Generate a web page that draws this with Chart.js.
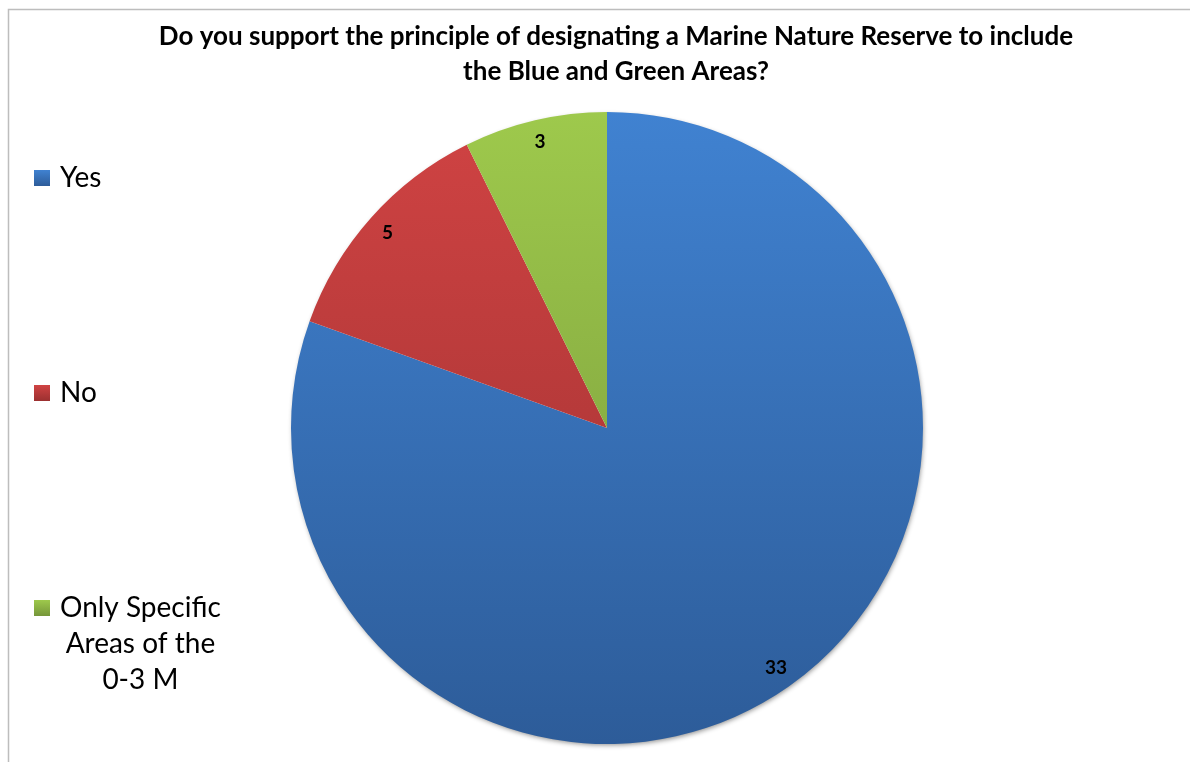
<!DOCTYPE html>
<html>
<head>
<meta charset="utf-8">
<script src="https://cdn.jsdelivr.net/npm/chart.js@4.4.0/dist/chart.umd.min.js"></script>
<style>
    body { margin: 0; background: #fff; }
    canvas { display: block; }
</style>
</head>
<body>
<canvas id="surveyPie" width="1190" height="762"></canvas>
<script>
// --- Data ---
const categories = ['Yes', 'No', ['Only Specific', 'Areas of the', '0-3 M']];
const responses = [33, 5, 3];
const titleLines = [
    'Do you support the principle of designating a Marine Nature Reserve to include',
    'the Blue and Green Areas?'
];
const topColors = ['#4082d1', '#d04343', '#9ec94c'];
const bottomColors = ['#2d5c99', '#9b3030', '#76963a'];

const FONT = 'Lato, "Open Sans", sans-serif';

// vertical gradient for each slice, like the Excel original
function sliceFill(context) {
    const i = context.dataIndex;
    const area = context.chart.chartArea;
    if (!area) return topColors[i];
    const g = context.chart.ctx.createLinearGradient(0, area.top, 0, area.bottom);
    g.addColorStop(0, topColors[i]);
    g.addColorStop(1, bottomColors[i]);
    return g;
}

// thin grey frame round the chart (only top and left are visible)
const framePlugin = {
    id: 'frame',
    beforeDraw(chart) {
        const ctx = chart.ctx;
        ctx.save();
        ctx.strokeStyle = '#bdbdbd';
        ctx.lineWidth = 1.5;
        ctx.beginPath();
        ctx.moveTo(8.5, chart.height);
        ctx.lineTo(8.5, 9.5);
        ctx.lineTo(chart.width, 9.5);
        ctx.stroke();
        ctx.restore();
    }
};

// title drawn by hand: the built-in one squeezes it to the pie's width
const titlePlugin = {
    id: 'wideTitle',
    afterDraw(chart) {
        const ctx = chart.ctx;
        ctx.save();
        ctx.font = 'bold 26px ' + FONT;
        ctx.fillStyle = '#000';
        ctx.textAlign = 'center';
        ctx.textBaseline = 'middle';
        titleLines.forEach((t, k) => ctx.fillText(t, 616, 37 + k * 35));
        ctx.restore();
    }
};

// soft shadow behind the pie
const shadowPlugin = {
    id: 'pieShadow',
    beforeDatasetsDraw(chart) {
        const arc = chart.getDatasetMeta(0).data[0];
        if (!arc) return;
        const ctx = chart.ctx;
        ctx.save();
        ctx.shadowColor = 'rgba(0,0,0,0.45)';
        ctx.shadowBlur = 5;
        ctx.shadowOffsetX = 1;
        ctx.shadowOffsetY = 2;
        ctx.fillStyle = '#fff';
        ctx.beginPath();
        ctx.arc(arc.x, arc.y, arc.outerRadius - 1, 0, Math.PI * 2);
        ctx.fill();
        ctx.restore();
    }
};

// value labels near the rim of each slice
const valueLabels = {
    id: 'valueLabels',
    afterDatasetsDraw(chart) {
        const ctx = chart.ctx;
        const values = chart.data.datasets[0].data;
        ctx.save();
        ctx.font = 'bold 19px ' + FONT;
        ctx.fillStyle = '#000';
        ctx.textAlign = 'center';
        ctx.textBaseline = 'middle';
        chart.getDatasetMeta(0).data.forEach((arc, i) => {
            const p = arc.getProps(['x', 'y', 'startAngle', 'endAngle', 'outerRadius'], true);
            const mid = (p.startAngle + p.endAngle) / 2;
            const r = p.outerRadius * 0.93;
            ctx.fillText(values[i], p.x + Math.cos(mid) * r, p.y + Math.sin(mid) * r);
        });
        ctx.restore();
    }
};

// legend down the left side, evenly spaced
const sideLegend = {
    id: 'sideLegend',
    afterDraw(chart) {
        const ctx = chart.ctx;
        const labels = chart.data.labels;
        const firstY = 178, step = 215, lineH = 36;
        const boxX = 34, box = 16, textX = 60;
        ctx.save();
        ctx.font = '28px ' + FONT;
        ctx.fillStyle = '#000';
        ctx.textBaseline = 'middle';
        labels.forEach((label, i) => {
            const lines = Array.isArray(label) ? label : [label];
            const y = firstY + i * step;
            const g = ctx.createLinearGradient(0, y - box / 2, 0, y + box / 2);
            g.addColorStop(0, topColors[i]);
            g.addColorStop(1, bottomColors[i]);
            ctx.fillStyle = g;
            ctx.fillRect(boxX, y - box / 2, box, box);
            ctx.fillStyle = '#000';
            const maxW = Math.max(...lines.map(l => ctx.measureText(l).width));
            ctx.textAlign = 'center';
            lines.forEach((l, k) => {
                ctx.fillText(l, textX + maxW / 2, y + k * lineH);
            });
        });
        ctx.restore();
    }
};

new Chart(document.getElementById('surveyPie').getContext('2d'), {
    type: 'pie',
    data: {
        labels: categories,
        datasets: [{
            data: responses,
            backgroundColor: sliceFill,
            borderWidth: 0
        }]
    },
    options: {
        responsive: false,
        animation: false,
        layout: { padding: { left: 291, right: 267, top: 112, bottom: 18 } },
        plugins: {
            legend: { display: false },
            tooltip: { enabled: false },
            title: { display: false }
        }
    },
    plugins: [framePlugin, shadowPlugin, valueLabels, sideLegend, titlePlugin]
});
</script>
</body>
</html>
